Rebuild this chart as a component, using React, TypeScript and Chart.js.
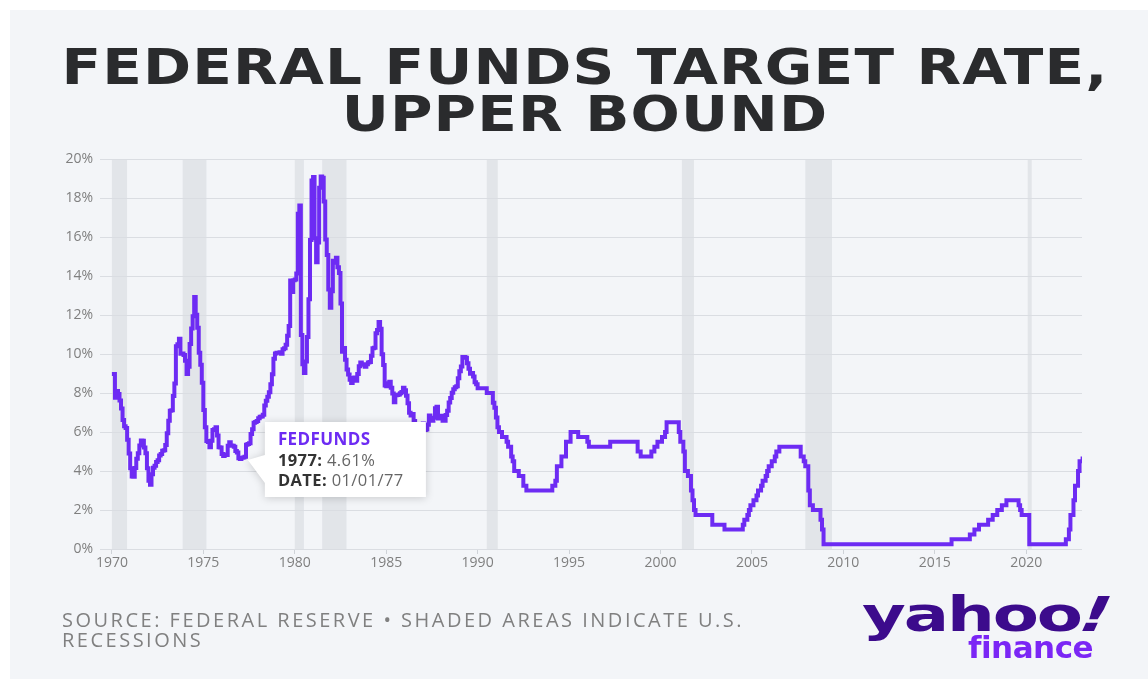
import React, { useEffect, useRef } from "react";
import { Chart, registerables } from "chart.js";

Chart.register(...registerables);

// Monthly values, first month = January of START_YEAR
const START_YEAR = 1970;

const rates1970s = [
  8.98, 8.98, 7.76, 8.1, 7.95, 7.61, 7.21, 6.61, 6.29, 6.2, 5.6, 4.9,
  4.14, 3.72, 3.71, 4.15, 4.63, 4.91, 5.31, 5.57, 5.55, 5.2, 4.91, 4.14,
  3.5, 3.29, 3.83, 4.17, 4.27, 4.46, 4.55, 4.8, 4.87, 5.04, 5.06, 5.33,
  5.94, 6.58, 7.09, 7.12, 7.84, 8.49, 10.4, 10.5, 10.78, 10.01, 10.03, 9.95,
  9.65, 8.97, 9.35, 10.51, 11.31, 11.93, 12.92, 12.01, 11.34, 10.06, 9.45, 8.53,
  7.13, 6.24, 5.54, 5.49, 5.22, 5.55, 6.1, 6.14, 6.24, 5.82, 5.22, 5.2,
  4.87, 4.77, 4.84, 4.82, 5.29, 5.48, 5.31, 5.29, 5.25, 5.02, 4.95, 4.65,
  4.61, 4.68, 4.69, 4.73, 5.35, 5.39, 5.42, 5.9, 6.14, 6.47, 6.51, 6.56,
  6.7, 6.78, 6.79, 6.89, 7.36, 7.6, 7.81, 8.04, 8.45, 8.96, 9.76, 10.03,
  10.07, 10.06, 10.09, 10.01, 10.24, 10.29, 10.47, 10.94, 11.43, 13.77, 13.18, 13.78,
];

const rates1980s = [
  13.82, 14.13, 17.19, 17.61, 10.98, 9.47, 9.03, 9.61, 10.87, 12.81, 15.85, 18.9,
  19.08, 15.93, 14.7, 15.72, 18.52, 19.1, 19.04, 17.82, 15.87, 15.08, 13.31, 12.37,
  13.22, 14.78, 14.68, 14.94, 14.45, 14.15, 12.59, 10.12, 10.31, 9.71, 9.2, 8.95,
  8.68, 8.51, 8.77, 8.8, 8.63, 8.98, 9.37, 9.56, 9.45, 9.48, 9.34, 9.47,
  9.56, 9.59, 9.91, 10.29, 10.32, 11.06, 11.23, 11.64, 11.3, 9.99, 9.43, 8.38,
  8.35, 8.5, 8.58, 8.27, 7.97, 7.53, 7.88, 7.9, 7.92, 7.99, 8.05, 8.27,
  8.14, 7.86, 7.48, 6.99, 6.85, 6.92, 6.56, 6.17, 5.89, 5.85, 6.04, 6.4,
  6.43, 6.1, 6.13, 6.37, 6.85, 6.73, 6.58, 6.73, 7.22, 7.29, 6.69, 6.77,
  6.83, 6.58, 6.58, 6.87, 7.09, 7.51, 7.75, 8.01, 8.19, 8.3, 8.35, 8.76,
  9.12, 9.36, 9.85, 9.84, 9.81, 9.53, 9.24, 8.99, 9.02, 8.84, 8.55, 8.45,
];

const rates1990s = [
  8.25, 8.25, 8.25, 8.25, 8.25, 8.25, 8.0, 8.0, 8.0, 8.0, 7.5, 7.25,
  6.75, 6.25, 6.0, 6.0, 5.75, 5.75, 5.75, 5.5, 5.25, 5.25, 4.75, 4.5,
  4.0, 4.0, 4.0, 3.75, 3.75, 3.75, 3.25, 3.25, 3.0, 3.0, 3.0, 3.0,
  3.0, 3.0, 3.0, 3.0, 3.0, 3.0, 3.0, 3.0, 3.0, 3.0, 3.0, 3.0,
  3.0, 3.25, 3.25, 3.5, 4.25, 4.25, 4.25, 4.75, 4.75, 4.75, 5.5, 5.5,
  5.5, 6.0, 6.0, 6.0, 6.0, 6.0, 5.75, 5.75, 5.75, 5.75, 5.75, 5.75,
  5.5, 5.25, 5.25, 5.25, 5.25, 5.25, 5.25, 5.25, 5.25, 5.25, 5.25, 5.25,
  5.25, 5.25, 5.25, 5.5, 5.5, 5.5, 5.5, 5.5, 5.5, 5.5, 5.5, 5.5,
  5.5, 5.5, 5.5, 5.5, 5.5, 5.5, 5.5, 5.5, 5.5, 5.0, 5.0, 4.75,
  4.75, 4.75, 4.75, 4.75, 4.75, 4.75, 5.0, 5.0, 5.25, 5.25, 5.5, 5.5,
];

const rates2000s = [
  5.5, 5.75, 5.75, 6.0, 6.5, 6.5, 6.5, 6.5, 6.5, 6.5, 6.5, 6.5,
  6.0, 5.5, 5.5, 5.0, 4.0, 4.0, 3.75, 3.75, 3.0, 2.5, 2.0, 1.75,
  1.75, 1.75, 1.75, 1.75, 1.75, 1.75, 1.75, 1.75, 1.75, 1.75, 1.25, 1.25,
  1.25, 1.25, 1.25, 1.25, 1.25, 1.25, 1.0, 1.0, 1.0, 1.0, 1.0, 1.0,
  1.0, 1.0, 1.0, 1.0, 1.0, 1.0, 1.25, 1.5, 1.5, 1.75, 2.0, 2.25,
  2.25, 2.5, 2.5, 2.75, 3.0, 3.0, 3.25, 3.5, 3.5, 3.75, 4.0, 4.25,
  4.25, 4.5, 4.5, 4.75, 5.0, 5.0, 5.25, 5.25, 5.25, 5.25, 5.25, 5.25,
  5.25, 5.25, 5.25, 5.25, 5.25, 5.25, 5.25, 5.25, 4.75, 4.75, 4.5, 4.25,
  4.25, 3.0, 2.25, 2.25, 2.0, 2.0, 2.0, 2.0, 2.0, 1.5, 1.0, 0.25,
  0.25, 0.25, 0.25, 0.25, 0.25, 0.25, 0.25, 0.25, 0.25, 0.25, 0.25, 0.25,
];

const rates2010s = [
  0.25, 0.25, 0.25, 0.25, 0.25, 0.25, 0.25, 0.25, 0.25, 0.25, 0.25, 0.25,
  0.25, 0.25, 0.25, 0.25, 0.25, 0.25, 0.25, 0.25, 0.25, 0.25, 0.25, 0.25,
  0.25, 0.25, 0.25, 0.25, 0.25, 0.25, 0.25, 0.25, 0.25, 0.25, 0.25, 0.25,
  0.25, 0.25, 0.25, 0.25, 0.25, 0.25, 0.25, 0.25, 0.25, 0.25, 0.25, 0.25,
  0.25, 0.25, 0.25, 0.25, 0.25, 0.25, 0.25, 0.25, 0.25, 0.25, 0.25, 0.25,
  0.25, 0.25, 0.25, 0.25, 0.25, 0.25, 0.25, 0.25, 0.25, 0.25, 0.25, 0.5,
  0.5, 0.5, 0.5, 0.5, 0.5, 0.5, 0.5, 0.5, 0.5, 0.5, 0.5, 0.75,
  0.75, 0.75, 1.0, 1.0, 1.0, 1.25, 1.25, 1.25, 1.25, 1.25, 1.25, 1.5,
  1.5, 1.5, 1.75, 1.75, 1.75, 2.0, 2.0, 2.0, 2.25, 2.25, 2.25, 2.5,
  2.5, 2.5, 2.5, 2.5, 2.5, 2.5, 2.5, 2.25, 2.0, 1.75, 1.75, 1.75,
];

const rates2020s = [
  1.75, 1.75, 0.25, 0.25, 0.25, 0.25, 0.25, 0.25, 0.25, 0.25, 0.25, 0.25,
  0.25, 0.25, 0.25, 0.25, 0.25, 0.25, 0.25, 0.25, 0.25, 0.25, 0.25, 0.25,
  0.25, 0.25, 0.5, 0.5, 1.0, 1.75, 1.75, 2.5, 3.25, 3.25, 4.0, 4.5,
  4.5, 4.75,
];

const xTickYears = [1970, 1975, 1980, 1985, 1990, 1995, 2000, 2005, 2010, 2015, 2020];
const yTickValues = [0, 2, 4, 6, 8, 10, 12, 14, 16, 18, 20];

const recessionStarts = [1970.0, 1973.87, 1980.0, 1981.5, 1990.5, 2001.17, 2007.92, 2020.08];
const recessionEnds = [1970.83, 1975.17, 1980.5, 1982.83, 1991.1, 2001.83, 2009.38, 2020.3];

const seriesName = "FEDFUNDS";
const tooltipYear = 1977;
const tooltipMonth = 1;

const LINE_COLOR = "#6d2bf3";
const FONT = "'Open Sans', 'Noto Sans', sans-serif";

const allRates = [...rates1970s, ...rates1980s, ...rates1990s, ...rates2000s, ...rates2010s, ...rates2020s];
const points = allRates.map((v, i) => ({ x: START_YEAR + i / 12, y: v }));
const tipIndex = (tooltipYear - START_YEAR) * 12 + (tooltipMonth - 1);

const recessionPlugin = {
  id: "recessions",
  beforeDraw(chart: any) {
    const { ctx, chartArea, scales } = chart;
    const xs = scales.x;
    ctx.save();
    ctx.fillStyle = "#e2e5e9";
    recessionStarts.forEach((s, i) => {
      const x0 = Math.max(xs.getPixelForValue(s), chartArea.left);
      const x1 = Math.min(xs.getPixelForValue(recessionEnds[i]), chartArea.right);
      ctx.fillRect(x0, chartArea.top, x1 - x0, chartArea.bottom - chartArea.top);
    });
    ctx.restore();
  },
};

const pad2 = (n: number) => String(n).padStart(2, "0");

const tipPlugin = {
  id: "staticTip",
  afterDatasetsDraw(chart: any) {
    const meta = chart.getDatasetMeta(0);
    const el = meta.data[tipIndex];
    if (!el) return;
    const px = el.x;
    const py = el.y;
    const ctx = chart.ctx;
    const bx = px + 25;
    const by = py - 37;
    const bw = 161;
    const bh = 75;
    ctx.save();
    ctx.shadowColor = "rgba(0,0,0,0.18)";
    ctx.shadowBlur = 8;
    ctx.shadowOffsetY = 1;
    ctx.fillStyle = "#ffffff";
    ctx.beginPath();
    ctx.moveTo(bx, by);
    ctx.lineTo(bx + bw, by);
    ctx.lineTo(bx + bw, by + bh);
    ctx.lineTo(bx, by + bh);
    ctx.lineTo(bx, py + 24);
    ctx.lineTo(px + 8, py + 1);
    ctx.lineTo(bx, py - 4);
    ctx.closePath();
    ctx.fill();
    ctx.restore();

    ctx.save();
    ctx.textBaseline = "alphabetic";
    ctx.textAlign = "left";
    (ctx as any).letterSpacing = "0.4px";
    const tx = bx + 13;
    ctx.font = `bold 17px ${FONT}`;
    ctx.fillStyle = LINE_COLOR;
    ctx.fillText(seriesName, tx, py - 14);

    const value = allRates[tipIndex];
    const lab1 = `${tooltipYear}: `;
    ctx.font = `bold 16.5px ${FONT}`;
    ctx.fillStyle = "#333333";
    ctx.fillText(lab1, tx, py + 7);
    let w = ctx.measureText(lab1).width;
    ctx.font = `16.5px ${FONT}`;
    ctx.fillStyle = "#666666";
    ctx.fillText(`${value.toFixed(2)}%`, tx + w, py + 7);

    const lab2 = "DATE: ";
    ctx.font = `bold 16.5px ${FONT}`;
    ctx.fillStyle = "#333333";
    ctx.fillText(lab2, tx, py + 27);
    w = ctx.measureText(lab2).width;
    ctx.font = `16.5px ${FONT}`;
    ctx.fillStyle = "#666666";
    ctx.fillText(`${pad2(tooltipMonth)}/01/${pad2(tooltipYear % 100)}`, tx + w, py + 27);
    ctx.restore();
  },
};

export default function App() {
  const ref = useRef<HTMLCanvasElement>(null);
  useEffect(() => {
    document.body.style.margin = "0";
    const chart = new Chart(ref.current as HTMLCanvasElement, {
      type: "line",
      data: {
        datasets: [
          {
            label: seriesName,
            data: points,
            borderColor: LINE_COLOR,
            borderWidth: 4,
            stepped: true,
            pointRadius: 0,
            fill: false,
            borderJoinStyle: "miter",
          },
        ],
      },
      options: {
        animation: false,
        responsive: false,
        devicePixelRatio: 1,
        events: [],
        layout: { padding: { left: 10, top: 159, right: 66, bottom: 100 } },
        plugins: { legend: { display: false }, tooltip: { enabled: false }, title: { display: false } },
        scales: {
          x: {
            type: "linear",
            min: 1969.35,
            max: 2023.05,
            afterBuildTicks(s: any) {
              s.ticks = xTickYears.map((v) => ({ value: v }));
            },
            afterFit(s: any) {
              s.height = 30;
            },
            ticks: {
              autoSkip: false,
              maxRotation: 0,
              padding: 1,
              color: "#7f7f7f",
              font: { family: FONT, size: 14 },
              callback: (v: any) => String(v),
            },
            grid: { drawOnChartArea: false, drawTicks: true, tickLength: 5, color: "#cfd3d8" },
            border: { display: false },
          },
          y: {
            min: 0,
            max: 20,
            afterBuildTicks(s: any) {
              s.ticks = yTickValues.map((v) => ({ value: v }));
            },
            afterFit(s: any) {
              s.width = 90;
            },
            ticks: {
              padding: 7,
              color: "#7f7f7f",
              font: { family: FONT, size: 14 },
              callback: (v: any) => `${v}%`,
            },
            grid: { color: "#dadde2", drawTicks: false },
            border: { display: false },
          },
        },
      },
      plugins: [recessionPlugin, tipPlugin],
    } as any);
    return () => chart.destroy();
  }, []);

  return (
    <div style={{ position: "relative", width: 1148, height: 679, background: "#ffffff", overflow: "hidden" }}>
      <div style={{ position: "absolute", left: 10, top: 10, right: 0, bottom: 0, background: "#f3f5f8" }} />
      <div
        style={{
          position: "absolute",
          left: 22,
          width: 1126,
          top: 44,
          textAlign: "center",
          fontFamily: "'DejaVu Sans', sans-serif",
          fontWeight: 700,
          fontSize: 50,
          lineHeight: "47px",
          letterSpacing: "1px",
          color: "#2a2b2d",
          transform: "scaleX(1.16)",
          transformOrigin: "center top",
        }}
      >
        FEDERAL FUNDS TARGET RATE,
        <br />
        UPPER BOUND
      </div>
      <canvas ref={ref} width={1148} height={679} style={{ position: "absolute", left: 0, top: 0 }} />
      <div
        style={{
          position: "absolute",
          left: 62,
          top: 610,
          fontFamily: FONT,
          fontSize: 20,
          lineHeight: "20px",
          letterSpacing: "2.5px",
          color: "#808080",
          whiteSpace: "nowrap",
        }}
      >
        SOURCE: FEDERAL RESERVE • SHADED AREAS INDICATE U.S.
        <br />
        RECESSIONS
      </div>
      <div
        style={{
          position: "absolute",
          left: 862,
          top: 590,
          fontFamily: "'DejaVu Sans', sans-serif",
          fontWeight: 700,
          fontSize: 48,
          lineHeight: "48px",
          letterSpacing: "-1.5px",
          color: "#3c0b8c",
          transform: "scaleX(1.4)",
          transformOrigin: "left top",
          whiteSpace: "nowrap",
        }}
      >
        yahoo<span style={{ display: "inline-block", transform: "skewX(-18deg)" }}>!</span>
      </div>
      <div
        style={{
          position: "absolute",
          left: 968,
          top: 632,
          fontFamily: "'DejaVu Sans', sans-serif",
          fontWeight: 700,
          fontSize: 31,
          lineHeight: "31px",
          letterSpacing: "-0.5px",
          color: "#7b26f5",
          whiteSpace: "nowrap",
        }}
      >
        finance
      </div>
    </div>
  );
}
